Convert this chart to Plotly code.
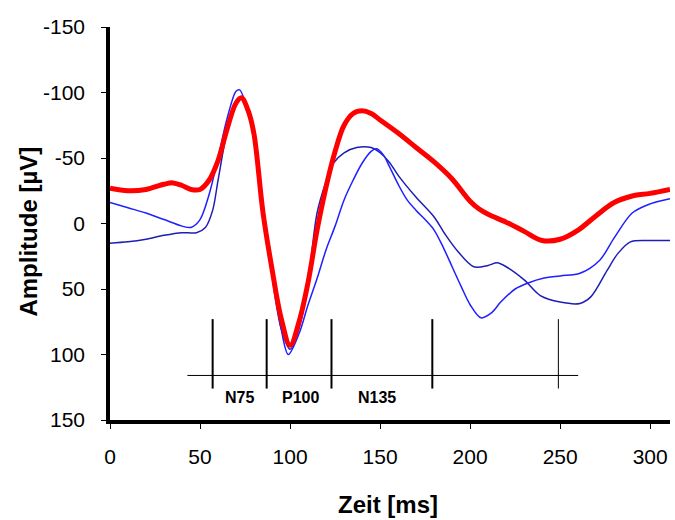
import plotly.graph_objects as go

# ---- data ----
red_t = [0, 10, 20, 30, 35, 40, 45, 50, 55, 60, 65, 70, 73, 77, 80, 85, 90, 95, 100, 105, 110, 115, 120, 125, 130, 135, 140, 145, 150, 160, 170, 180, 190, 200, 205, 210, 220, 230, 240, 250, 260, 270, 280, 290, 300, 311]
red_v = [-27, -25, -26, -30, -31, -29, -26, -26, -33, -48, -72, -92, -96, -85, -68, -8, 35, 72, 93, 75, 45, 5, -28, -55, -75, -84, -86, -84, -79, -69, -58, -47, -34, -17, -11, -7, -1, 6, 13, 12, 5, -6, -16, -21, -23, -26]

b1_t = [0, 10, 20, 30, 40, 45, 50, 55, 60, 65, 70, 72, 75, 80, 85, 90, 95, 99, 105, 110, 115, 120, 125, 130, 135, 140, 145, 148, 152, 155, 160, 165, 170, 175, 180, 185, 190, 195, 200, 206, 212, 217, 225, 233, 240, 250, 261, 272, 280, 290, 300, 311]
b1_v = [-16, -12, -8, -3, 2, 3, -3, -22, -50, -80, -101, -102, -93, -65, -15, 35, 80, 100, 84, 62, 42, 20, 2, -18, -33, -46, -55, -57, -52, -44, -30, -18, -10, -3, 5, 18, 33, 48, 62, 72, 68, 60, 50, 45, 42, 40, 38, 28, 11, -8, -15, -19]

b2_t = [0, 10, 20, 30, 40, 48, 53, 57, 60, 65, 70, 73, 76, 80, 85, 90, 95, 100, 105, 110, 115, 120, 124, 130, 137, 145, 150, 155, 161, 170, 180, 186, 193, 202, 210, 215, 220, 230, 239, 250, 261, 267, 276, 282, 289, 300, 311]
b2_v = [15, 14, 12, 9, 7, 7, 3, -10, -33, -70, -92, -96, -90, -65, -12, 40, 80, 96, 80, 45, -8, -32, -46, -54, -58, -58, -54, -47, -35, -20, -5, 8, 21, 33, 32, 30, 33, 43, 55, 60, 61, 56, 36, 23, 14, 13, 13]

x_ticks = [0, 50, 100, 150, 200, 250, 300]
y_ticks = [-150, -100, -50, 0, 50, 100, 150]
y_ticktext = ["-150", "-100", "-50", "0", "50", "100", "150"]

# component markers
marker_bounds = [57, 87, 123, 179, 249]
marker_top = 73
marker_bottom = 126
baseline_y = 116
baseline_x = [43, 260]
comp_labels = ["N75", "P100", "N135"]
comp_label_x = [72, 106, 148]
comp_label_y = 133

fig = go.Figure()
fig.add_trace(go.Scatter(x=b2_t, y=b2_v, mode="lines", line=dict(color="#1e1eb4", width=1.5, shape="spline", smoothing=0.9), showlegend=False))
fig.add_trace(go.Scatter(x=b1_t, y=b1_v, mode="lines", line=dict(color="#1f1fff", width=1.5, shape="spline", smoothing=0.9), showlegend=False))
fig.add_trace(go.Scatter(x=red_t, y=red_v, mode="lines", line=dict(color="#ff0000", width=5, shape="spline", smoothing=1.0), showlegend=False))

# baseline
fig.add_trace(go.Scatter(x=baseline_x, y=[baseline_y, baseline_y], mode="lines", line=dict(color="black", width=1), showlegend=False, hoverinfo="skip"))
for i, xb in enumerate(marker_bounds):
    w = 1 if i == len(marker_bounds) - 1 else 2
    fig.add_trace(go.Scatter(x=[xb, xb], y=[marker_top, marker_bottom], mode="lines", line=dict(color="black", width=w), showlegend=False, hoverinfo="skip"))

for lab, lx in zip(comp_labels, comp_label_x):
    fig.add_annotation(x=lx, y=comp_label_y, text="<b>" + lab + "</b>", showarrow=False,
                       font=dict(family="Liberation Sans, Arial", size=16, color="black"))

fig.add_annotation(xref="paper", yref="paper", x=-0.146, y=0.48, text="<b>Amplitude [µV]</b>",
                   textangle=-90, showarrow=False, xanchor="center", yanchor="middle",
                   font=dict(family="Liberation Sans, Arial", size=24, color="black"))
fig.add_annotation(xref="paper", yref="paper", x=0.497, y=-0.215, text="<b>Zeit [ms]</b>",
                   showarrow=False, xanchor="center", yanchor="middle",
                   font=dict(family="Liberation Sans, Arial", size=24, color="black"))

fig.update_layout(
    width=675, height=520,
    margin=dict(l=110, r=5, t=27, b=100),
    paper_bgcolor="white", plot_bgcolor="white",
    font=dict(family="Liberation Sans, Arial", size=21, color="black"),
    xaxis=dict(range=[0, 311], tickmode="array", tickvals=x_ticks, showgrid=False, zeroline=False,
               showline=True, linecolor="black", linewidth=3.5, ticks="outside", ticklen=5, tickwidth=1,
               tickcolor="black", ticklabelstandoff=10),
    yaxis=dict(range=[150, -150], tickmode="array", tickvals=y_ticks, ticktext=y_ticktext, showgrid=False,
               zeroline=False, showline=True, linecolor="black", linewidth=3.5, ticks="outside", ticklen=5,
               tickwidth=1, tickcolor="black", ticklabelstandoff=12),
)

fig.write_html("out.html")
